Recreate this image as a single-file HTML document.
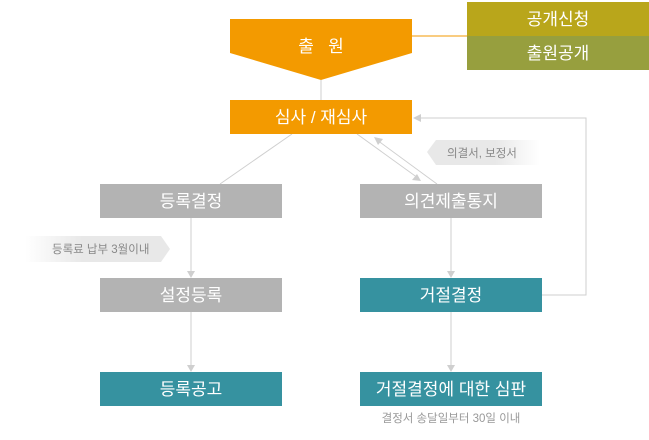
<!DOCTYPE html>
<html><head><meta charset="utf-8"><style>
html,body{margin:0;padding:0;background:#fff;}
svg text{font-family:"Liberation Sans","Noto Sans CJK KR",sans-serif;}
</style></head><body>
<svg width="649" height="435" viewBox="0 0 649 435" xmlns="http://www.w3.org/2000/svg">
<defs>
<linearGradient id="gl" x1="0" x2="1"><stop offset="0" stop-color="#e8e8e8" stop-opacity="0"/><stop offset="0.4" stop-color="#e8e8e8"/><stop offset="1" stop-color="#e8e8e8"/></linearGradient>
<linearGradient id="gr" x1="0" x2="1"><stop offset="0" stop-color="#e8e8e8"/><stop offset="0.6" stop-color="#e8e8e8"/><stop offset="1" stop-color="#e8e8e8" stop-opacity="0"/></linearGradient>
</defs>
<g stroke="#cfcfcf" stroke-width="1" fill="none">
<line x1="321" y1="80" x2="321" y2="100"/>
<line x1="292" y1="134" x2="220" y2="184"/>
<line x1="357" y1="134" x2="418" y2="178"/>
<line x1="437" y1="184" x2="377" y2="140"/>
<line x1="191" y1="218" x2="191" y2="272"/>
<line x1="191" y1="312" x2="191" y2="366"/>
<line x1="451" y1="218" x2="451" y2="272"/>
<line x1="451" y1="312" x2="451" y2="366"/>
<polyline points="542,295 586,295 586,118 420,118"/>
</g>
<line x1="412" y1="36" x2="467" y2="36" stroke="#f39a00" stroke-width="1"/>
<g fill="#cfcfcf">
<polygon points="187,271 195,271 191,278"/>
<polygon points="187,365 195,365 191,372"/>
<polygon points="447,271 455,271 451,278"/>
<polygon points="447,365 455,365 451,372"/>
<polygon points="413,118 421,114 421,122"/>
<polygon points="421,181 412,180 417,174"/>
<polygon points="374,137 383,139 378,145"/>
</g>
<polygon points="230,19 412,19 412,53 321,80 230,53" fill="#f39a00"/>
<text x="321" y="52" fill="#fff" font-size="17" text-anchor="middle">출 &#160; 원</text>
<rect x="467" y="2" width="182" height="34" fill="#b9a61b"/>
<rect x="467" y="36" width="182" height="34" fill="#979f3e"/>
<text x="558" y="25" fill="#fff" font-size="17" text-anchor="middle">공개신청</text>
<text x="558" y="59" fill="#fff" font-size="17" text-anchor="middle">출원공개</text>
<rect x="230" y="100" width="182" height="34" fill="#f39a00"/>
<text x="321" y="123" fill="#fff" font-size="17" text-anchor="middle">심사 / 재심사</text>
<polygon points="427,152 436,140 540,140 540,165 436,165" fill="url(#gr)"/>
<text x="447" y="157" fill="#888" font-size="11.5">의결서, 보정서</text>
<rect x="100" y="184" width="182" height="34" fill="#b3b3b3"/>
<text x="191" y="207" fill="#fff" font-size="17" text-anchor="middle">등록결정</text>
<rect x="360" y="184" width="182" height="34" fill="#b3b3b3"/>
<text x="451" y="207" fill="#fff" font-size="17" text-anchor="middle">의견제출통지</text>
<polygon points="25,236 161,236 170,249 161,262 25,262" fill="url(#gl)"/>
<text x="52" y="253" fill="#888" font-size="11.5">등록료 납부 3월이내</text>
<rect x="100" y="278" width="182" height="34" fill="#b3b3b3"/>
<text x="191" y="301" fill="#fff" font-size="17" text-anchor="middle">설정등록</text>
<rect x="360" y="278" width="182" height="34" fill="#3692a0"/>
<text x="451" y="301" fill="#fff" font-size="17" text-anchor="middle">거절결정</text>
<rect x="100" y="372" width="182" height="34" fill="#3692a0"/>
<text x="191" y="395" fill="#fff" font-size="17" text-anchor="middle">등록공고</text>
<rect x="360" y="372" width="182" height="34" fill="#3692a0"/>
<text x="451" y="395" fill="#fff" font-size="17" text-anchor="middle">거절결정에 대한 심판</text>
<text x="451" y="422" fill="#999" font-size="11.5" text-anchor="middle">결정서 송달일부터 30일 이내</text>
</svg>
</body></html>
